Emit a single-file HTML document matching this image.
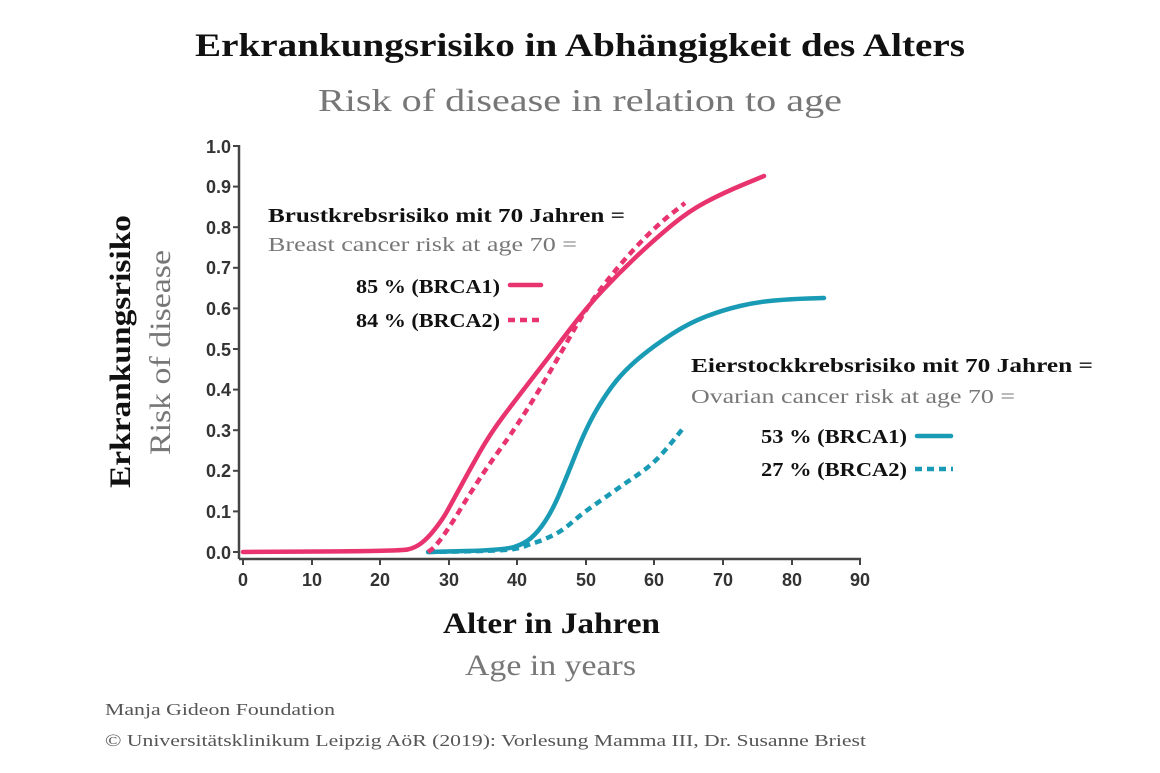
<!DOCTYPE html>
<html><head><meta charset="utf-8"><style>
body{margin:0;background:#fff;}
svg{display:block}
</style></head><body>
<svg width="1160" height="773" viewBox="0 0 1160 773" xmlns="http://www.w3.org/2000/svg">
<rect width="1160" height="773" fill="#fff"/>
<g font-family="Liberation Serif, serif">
<text x="195" y="56" font-size="33" font-weight="bold" fill="#111" textLength="770" lengthAdjust="spacingAndGlyphs">Erkrankungsrisiko in Abhängigkeit des Alters</text>
<text x="318" y="111" font-size="32" fill="#777" textLength="524" lengthAdjust="spacingAndGlyphs">Risk of disease in relation to age</text>
<text transform="translate(130,488) rotate(-90)" font-size="30" font-weight="bold" fill="#111" textLength="273" lengthAdjust="spacingAndGlyphs">Erkrankungsrisiko</text>
<text transform="translate(170,455) rotate(-90)" font-size="30" fill="#777" textLength="205" lengthAdjust="spacingAndGlyphs">Risk of disease</text>
<text x="443" y="633" font-size="30" font-weight="bold" fill="#111" textLength="217" lengthAdjust="spacingAndGlyphs">Alter in Jahren</text>
<text x="465" y="675" font-size="30" fill="#777" textLength="171" lengthAdjust="spacingAndGlyphs">Age in years</text>
<text x="105" y="715" font-size="17" fill="#555" textLength="230" lengthAdjust="spacingAndGlyphs">Manja Gideon Foundation</text>
<text x="105" y="746" font-size="17" fill="#555" textLength="761" lengthAdjust="spacingAndGlyphs">© Universitätsklinikum Leipzig AöR (2019): Vorlesung Mamma III, Dr. Susanne Briest</text>
<text x="268" y="222" font-size="20" font-weight="bold" fill="#111" textLength="357" lengthAdjust="spacingAndGlyphs">Brustkrebsrisiko mit 70 Jahren =</text>
<text x="268" y="251" font-size="20" fill="#777" textLength="309" lengthAdjust="spacingAndGlyphs">Breast cancer risk at age 70 =</text>
<text x="356" y="293" font-size="20" font-weight="bold" fill="#111" textLength="144" lengthAdjust="spacingAndGlyphs">85 % (BRCA1)</text>
<text x="356" y="327" font-size="20" font-weight="bold" fill="#111" textLength="144" lengthAdjust="spacingAndGlyphs">84 % (BRCA2)</text>
<text x="691" y="372" font-size="20" font-weight="bold" fill="#111" textLength="402" lengthAdjust="spacingAndGlyphs">Eierstockkrebsrisiko mit 70 Jahren =</text>
<text x="691" y="403" font-size="20" fill="#777" textLength="324" lengthAdjust="spacingAndGlyphs">Ovarian cancer risk at age 70 =</text>
<text x="761" y="443" font-size="20" font-weight="bold" fill="#111" textLength="146" lengthAdjust="spacingAndGlyphs">53 % (BRCA1)</text>
<text x="761" y="476" font-size="20" font-weight="bold" fill="#111" textLength="146" lengthAdjust="spacingAndGlyphs">27 % (BRCA2)</text>
</g>
<g stroke-linecap="round" fill="none" stroke-width="4.5">
<line x1="510" y1="285" x2="541" y2="285" stroke="#e8336f"/>
<line x1="508" y1="320" x2="543" y2="320" stroke="#e8336f" stroke-dasharray="7 5" stroke-linecap="butt"/>
<line x1="917" y1="436" x2="951" y2="436" stroke="#1a9bb5"/>
<line x1="915" y1="469" x2="953" y2="469" stroke="#1a9bb5" stroke-dasharray="7 5" stroke-linecap="butt"/>
</g>
<g stroke="#444" stroke-width="2.5" fill="none">
<line x1="239" y1="145" x2="239" y2="559"/>
<line x1="239" y1="559" x2="861" y2="559"/>
<g stroke-width="2">
<line x1="233" y1="146" x2="239" y2="146"/><line x1="233" y1="186.6" x2="239" y2="186.6"/><line x1="233" y1="227.2" x2="239" y2="227.2"/><line x1="233" y1="267.8" x2="239" y2="267.8"/><line x1="233" y1="308.4" x2="239" y2="308.4"/><line x1="233" y1="349" x2="239" y2="349"/><line x1="233" y1="389.6" x2="239" y2="389.6"/><line x1="233" y1="430.2" x2="239" y2="430.2"/><line x1="233" y1="470.8" x2="239" y2="470.8"/><line x1="233" y1="511.4" x2="239" y2="511.4"/><line x1="233" y1="552" x2="239" y2="552"/>
<line x1="243" y1="559" x2="243" y2="565"/><line x1="312" y1="559" x2="312" y2="565"/><line x1="380" y1="559" x2="380" y2="565"/><line x1="449" y1="559" x2="449" y2="565"/><line x1="517" y1="559" x2="517" y2="565"/><line x1="586" y1="559" x2="586" y2="565"/><line x1="654" y1="559" x2="654" y2="565"/><line x1="723" y1="559" x2="723" y2="565"/><line x1="792" y1="559" x2="792" y2="565"/><line x1="860" y1="559" x2="860" y2="565"/>
</g></g>
<g font-family="Liberation Sans, sans-serif" font-size="18" font-weight="bold" fill="#333" text-anchor="end">
<text x="231" y="153">1.0</text><text x="231" y="193">0.9</text><text x="231" y="234">0.8</text><text x="231" y="274">0.7</text><text x="231" y="315">0.6</text><text x="231" y="356">0.5</text><text x="231" y="396">0.4</text><text x="231" y="437">0.3</text><text x="231" y="477">0.2</text><text x="231" y="518">0.1</text><text x="231" y="559">0.0</text>
</g>
<g font-family="Liberation Sans, sans-serif" font-size="18" font-weight="bold" fill="#333" text-anchor="middle">
<text x="243" y="586">0</text><text x="312" y="586">10</text><text x="380" y="586">20</text><text x="449" y="586">30</text><text x="517" y="586">40</text><text x="586" y="586">50</text><text x="654" y="586">60</text><text x="723" y="586">70</text><text x="792" y="586">80</text><text x="860" y="586">90</text>
</g>
<g fill="none" stroke-width="4.5" stroke-linejoin="round" stroke-linecap="round">
<path d="M428,552 C440.7,551.7 486.8,551.3 504,550 C521.2,548.7 521.8,547 531,544 C540.2,541 549.8,537.5 559,532 C568.2,526.5 575.8,518.5 586,511 C596.2,503.5 608.5,495.3 620,487 C631.5,478.7 644.2,471.2 655,461 C665.8,450.8 680,431.8 685,426" stroke="#1a9bb5" stroke-dasharray="7 5" stroke-linecap="butt"/>
<path d="M428,552 L466,551 Q504,550 514,547 Q524,544 531,538 Q538,532 545,521.5 Q552,511 558.5,496 Q565,481 575.5,454.5 Q586,428 596.5,410 Q607,392 617,380 Q627,368 641,356.5 Q655,345 672,334 Q689,323 706,316.5 Q723,310 740,306 Q757,302 774.5,300.5 Q792,299 808,298.5 L824,298" stroke="#1a9bb5"/>
<path d="M243,552 L321.5,551.5 Q400,551 407.5,549.5 Q415,548 421.5,543 Q428,538 435,529 Q442,520 445.5,514 Q449,508 459,489.5 Q469,471 479.5,452.5 Q490,434 503.5,416 Q517,398 534.5,375.5 Q552,353 569,330.5 Q586,308 603,290 Q620,272 637.5,255.5 Q655,239 672,225 Q689,211 706,202 Q723,193 743.5,184.5 L764,176" stroke="#e8336f"/>
<path d="M428,552 L431.5,549.5 Q435,547 442,537.5 Q449,528 459,511.5 Q469,495 479.5,479 Q490,463 503.5,444.5 Q517,426 534.5,397.5 Q552,369 569,338.5 Q586,308 603,286 Q620,264 637.5,245.5 Q655,227 670,215 L685,203" stroke="#e8336f" stroke-dasharray="7 5" stroke-linecap="butt"/>
</g>
</svg>
</body></html>
